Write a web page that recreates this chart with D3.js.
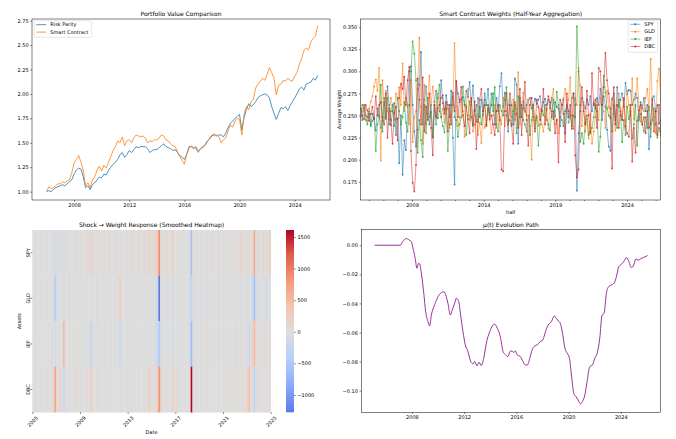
<!DOCTYPE html>
<html>
<head>
<meta charset="utf-8">
<script src="https://cdn.jsdelivr.net/npm/d3@7"></script>
<style>
body { margin: 0; background: #fff; }
svg { font-family: "DejaVu Sans", sans-serif; }
text { fill: #000; }
</style>
</head>
<body>
<div class="chart"></div>
<script>
// ---- data: portfolio value (every 2 months from Jan 2006)
var valueStart = 2006;
var valueStep = 1 / 6;
var riskParity = [
  1.00, 1.01, 1.00, 1.02, 1.04, 1.05,
  1.06, 1.07, 1.06, 1.08, 1.10, 1.12,
  1.18, 1.22, 1.24, 1.23, 1.15, 1.04,
  1.06, 1.02, 1.07, 1.09, 1.12, 1.15,
  1.14, 1.18, 1.17, 1.22, 1.25, 1.28,
  1.30, 1.33, 1.38, 1.40, 1.35, 1.38,
  1.42, 1.40, 1.43, 1.46, 1.45, 1.46,
  1.46, 1.46, 1.44, 1.40, 1.42, 1.43,
  1.43, 1.45, 1.47, 1.49, 1.46, 1.45,
  1.44, 1.42, 1.43, 1.40, 1.37, 1.35,
  1.33, 1.38, 1.46, 1.46, 1.44, 1.46,
  1.41, 1.44, 1.46, 1.48, 1.52, 1.54,
  1.57, 1.59, 1.57, 1.58, 1.58, 1.56,
  1.60, 1.65, 1.70, 1.72, 1.75, 1.77,
  1.79, 1.63, 1.76, 1.84, 1.90, 1.87,
  1.89, 1.92, 1.96, 1.98, 1.99, 2.00,
  1.99, 1.96, 1.87, 1.80, 1.74, 1.80,
  1.86, 1.85, 1.87, 1.83, 1.88, 1.92,
  1.96, 2.00, 2.05, 2.07, 2.04, 2.10,
  2.11, 2.12, 2.16, 2.14, 2.19
];
var smartContract = [
  1.00, 1.05, 1.03, 1.04, 1.06, 1.08,
  1.08, 1.10, 1.09, 1.11, 1.12, 1.19,
  1.29, 1.33, 1.37, 1.30, 1.22, 1.06,
  1.09, 1.04, 1.12, 1.15, 1.22, 1.26,
  1.21, 1.27, 1.24, 1.30, 1.36, 1.42,
  1.46, 1.52, 1.50, 1.56, 1.47, 1.52,
  1.53, 1.50, 1.55, 1.58, 1.57, 1.56,
  1.57, 1.55, 1.50, 1.52, 1.51, 1.53,
  1.53, 1.55, 1.58, 1.57, 1.53, 1.52,
  1.49, 1.47, 1.46, 1.41, 1.36, 1.32,
  1.28, 1.38, 1.44, 1.47, 1.45, 1.44,
  1.40, 1.44, 1.45, 1.47, 1.51, 1.55,
  1.58, 1.57, 1.58, 1.56, 1.50, 1.53,
  1.55, 1.62, 1.68, 1.66, 1.72, 1.75,
  1.74, 1.58, 1.80, 1.87, 1.84, 1.92,
  1.94, 2.06, 2.10, 2.13, 2.16, 2.14,
  2.20, 2.27, 2.22, 2.16, 1.99, 2.09,
  2.10, 2.14, 2.13, 2.16, 2.14, 2.13,
  2.18, 2.22, 2.30, 2.36, 2.44, 2.47,
  2.45, 2.53, 2.57, 2.59, 2.70
];
var valueTicksY = [1.00, 1.25, 1.50, 1.75, 2.00, 2.25, 2.50, 2.75];
var valueTicksX = [2008, 2012, 2016, 2020, 2024];

// ---- data: smart contract weights
var assets = ["SPY", "GLD", "IEF", "DBC"];
var weightStart = 2005.42;
var weightEnd = 2026.35;
var wSPY = [
  .258,.245,.262,.250,.248,.255,.240,.252,.246,.233,
  .258,.250,.236,.244,.270,.248,.283,.262,.239,.255,
  .264,.228,.247,.196,.250,.183,.222,.211,.260,.300,
  .306,.262,.232,.215,.234,.285,.322,.240,.268,.283,
  .252,.240,.262,.225,.266,.278,.247,.255,.290,.264,
  .256,.273,.262,.248,.278,.225,.172,.289,.275,.265,
  .268,.271,.262,.278,.271,.288,.262,.284,.256,.243,
  .270,.248,.268,.250,.275,.262,.280,.253,.262,.275,
  .240,.270,.255,.283,.298,.260,.276,.250,.232,.275,
  .262,.240,.292,.285,.218,.270,.248,.266,.255,.262,
  .268,.270,.258,.262,.269,.263,.268,.272,.256,.265,
  .269,.262,.268,.258,.270,.246,.265,.260,.258,.238,
  .262,.268,.230,.262,.255,.250,.270,.275,.262,.165,
  .230,.255,.270,.262,.258,.268,.262,.272,.255,.264,
  .258,.270,.262,.280,.245,.272,.260,.234,.215,.210,
  .268,.275,.245,.282,.260,.268,.275,.260,.287,.274,
  .279,.278,.262,.268,.275,.270,.245,.265,.258,.270,
  .255,.262,.212,.240,.270,.272,.255,.262,.241,.245
];
var wGLD = [
  .248,.255,.262,.250,.244,.258,.266,.272,.283,.291,
  .278,.304,.199,.290,.262,.278,.255,.246,.270,.262,
  .245,.275,.268,.282,.262,.309,.255,.270,.262,.240,
  .290,.220,.248,.255,.280,.338,.260,.218,.285,.240,
  .270,.295,.262,.283,.265,.250,.275,.262,.248,.258,
  .242,.265,.258,.236,.250,.262,.332,.260,.238,.248,
  .270,.255,.226,.262,.280,.245,.268,.232,.240,.250,
  .228,.242,.219,.252,.236,.240,.262,.245,.230,.250,
  .262,.236,.255,.248,.240,.270,.238,.255,.262,.275,
  .248,.268,.245,.258,.299,.240,.262,.276,.254,.250,
  .268,.238,.200,.262,.244,.250,.238,.258,.240,.232,
  .248,.256,.235,.262,.270,.280,.240,.246,.230,.254,
  .262,.270,.280,.258,.268,.293,.250,.235,.270,.262,
  .304,.284,.238,.265,.232,.246,.224,.252,.218,.232,
  .248,.262,.245,.270,.258,.255,.236,.278,.260,.248,
  .270,.252,.233,.262,.275,.258,.245,.268,.236,.278,
  .262,.250,.292,.246,.270,.292,.260,.243,.262,.255,
  .270,.280,.256,.314,.262,.248,.230,.289,.303,.268
];
var wIEF = [
  .250,.262,.258,.245,.240,.252,.238,.244,.248,.210,
  .240,.248,.285,.232,.265,.246,.270,.240,.255,.262,
  .238,.246,.270,.255,.240,.248,.265,.242,.232,.262,
  .300,.334,.320,.290,.208,.245,.222,.203,.262,.230,
  .270,.248,.254,.226,.262,.240,.270,.285,.248,.238,
  .231,.258,.210,.240,.262,.272,.248,.245,.226,.240,
  .248,.283,.262,.228,.250,.266,.248,.238,.255,.262,
  .245,.260,.240,.255,.268,.240,.262,.250,.275,.255,
  .282,.240,.232,.262,.255,.250,.268,.282,.243,.245,
  .238,.255,.262,.230,.272,.248,.262,.245,.240,.232,
  .250,.228,.245,.262,.235,.248,.216,.240,.255,.250,
  .262,.245,.240,.233,.255,.268,.249,.277,.262,.248,
  .245,.238,.255,.260,.242,.248,.238,.250,.248,.351,
  .300,.220,.230,.218,.242,.250,.228,.232,.236,.248,
  .262,.255,.209,.226,.262,.295,.276,.258,.250,.247,
  .232,.262,.248,.236,.268,.250,.220,.245,.228,.260,
  .246,.255,.224,.240,.262,.216,.248,.252,.240,.232,
  .248,.236,.260,.226,.245,.258,.240,.225,.236,.228
];
var wDBC = [
  .258,.250,.246,.262,.256,.244,.252,.260,.246,.272,
  .250,.262,.265,.248,.240,.275,.225,.258,.245,.218,
  .253,.260,.222,.270,.286,.280,.294,.262,.290,.305,
  .210,.174,.164,.194,.292,.268,.240,.293,.232,.260,
  .245,.275,.236,.205,.262,.248,.258,.262,.270,.273,
  .252,.265,.232,.262,.240,.276,.255,.289,.248,.268,
  .282,.250,.238,.260,.246,.230,.270,.240,.266,.212,
  .243,.268,.280,.255,.262,.238,.258,.246,.250,.240,
  .228,.255,.262,.245,.189,.187,.255,.275,.240,.262,
  .240,.218,.265,.252,.236,.280,.228,.258,.288,.245,
  .216,.262,.270,.248,.232,.268,.260,.245,.255,.280,
  .240,.258,.272,.265,.248,.255,.230,.245,.197,.268,
  .262,.252,.220,.275,.248,.262,.235,.275,.205,.180,
  .189,.262,.282,.255,.240,.278,.250,.230,.298,.262,
  .268,.236,.304,.300,.262,.282,.321,.290,.275,.258,
  .190,.282,.240,.262,.236,.255,.245,.270,.238,.230,
  .226,.262,.198,.236,.208,.244,.256,.262,.240,.248,
  .230,.255,.236,.242,.268,.232,.255,.228,.262,.232
];
var weightTicksY = [0.175, 0.200, 0.225, 0.250, 0.275, 0.300, 0.325, 0.350];
var weightTicksX = [2009, 2014, 2019, 2024];
var weightMinorX = [2006, 2007, 2008, 2010, 2011, 2012, 2013, 2015, 2016, 2017, 2018, 2020, 2021, 2022, 2023, 2025, 2026];

// ---- data: shock -> weight response (140 smoothed columns)
var shockSPY = [
  0,10,-20,0,15,0,-10,20,0,-15,
  0,-30,40,-150,-60,20,-120,30,-80,-40,
  60,0,-30,40,0,80,-20,10,50,0,
  -40,20,90,60,200,30,-20,50,0,70,
  40,-30,60,0,90,20,0,-50,30,60,
  0,-40,20,40,0,60,-20,30,90,0,
  40,-60,20,80,0,110,60,-30,150,40,
  120,60,140,250,900,100,-40,60,120,30,
  0,80,200,40,-20,60,0,30,-40,20,
  0,-30,50,-600,20,0,30,-20,0,40,
  20,0,-40,30,0,60,-20,0,40,-30,
  50,0,30,-50,60,20,0,80,40,-20,
  60,90,150,30,-60,80,40,120,-40,100,
  650,-50,80,60,20,120,40,100,60,150
];
var shockGLD = [
  0,-20,10,0,-30,0,20,0,-10,0,
  -20,0,-60,-450,-80,-40,0,-30,-60,-20,
  0,-40,20,0,-30,0,-50,20,0,-20,
  30,0,-40,0,-30,20,0,-60,0,40,
  0,-30,20,60,0,-20,40,0,20,80,
  40,250,30,0,-40,60,0,-20,30,0,
  -30,20,0,-40,30,0,-20,40,0,20,
  -30,0,-40,-120,-1275,-60,0,-30,20,-40,
  0,-20,-60,0,30,-40,0,-20,40,-30,
  0,-20,-60,-350,-40,0,-30,20,0,-20,
  0,-40,20,0,-30,0,20,-40,0,-20,
  30,0,-20,40,0,-30,0,20,-40,0,
  -20,-40,-100,0,30,-60,-20,0,-80,-150,
  -600,-100,0,-40,20,-30,-60,-150,-40,0
];
var shockIEF = [
  0,-20,0,10,-10,0,20,-10,0,-20,
  0,-40,0,-100,-40,-30,-20,-60,500,-40,
  0,20,-30,0,40,0,-20,30,0,-30,
  20,-40,0,-60,-250,-30,0,-20,40,0,
  -30,0,20,-40,0,30,-20,0,-30,20,
  -60,-200,-40,0,20,-30,0,40,-20,0,
  20,-30,0,-20,40,0,-30,20,0,-20,
  0,-30,-60,-200,-500,-80,-20,0,-40,0,
  -20,0,-40,20,0,-30,0,20,-40,0,
  -20,0,-80,-650,-60,0,-20,30,0,-20,
  0,-20,40,0,-30,0,20,-20,0,30,
  0,-40,20,0,-20,30,0,-30,0,20,
  -30,0,40,-20,0,60,-40,-200,80,150,
  500,120,0,-40,60,30,-20,80,0,40
];
var shockDBC = [
  0,10,0,-10,20,0,-20,10,30,0,
  20,40,100,700,60,30,200,-60,-150,-30,
  20,30,0,40,10,60,0,30,-10,40,
  20,0,30,60,250,40,10,0,50,10,
  30,10,0,40,-20,20,0,30,0,10,
  0,30,0,-20,10,40,0,30,-10,20,
  10,0,30,0,40,10,30,60,150,100,
  30,10,40,200,850,250,30,10,40,0,
  30,60,150,30,100,10,0,30,0,10,
  0,30,40,1610,10,0,30,-20,0,0,
  10,0,30,0,-20,10,0,30,0,0,
  10,30,0,40,0,30,0,10,30,0,
  30,40,10,60,30,80,150,450,40,-40,
  -300,-60,30,10,40,0,30,0,60,10
];
var shockYears = [2005, 2009, 2013, 2017, 2021, 2025];
var colorbarTicks = [-1000, -500, 0, 500, 1000, 1500];

// ---- data: mu(t) path
var muYears = [2005.14, 2007.10, 2007.29, 2007.57, 2007.82, 2007.95, 2008.08, 2008.25, 2008.38, 2008.51,
  2008.59, 2008.72, 2008.92, 2009.05, 2009.23, 2009.36, 2009.49, 2009.74, 2010.00, 2010.25,
  2010.45, 2010.63, 2010.76, 2010.94, 2011.07, 2011.27, 2011.40, 2011.58, 2011.73, 2011.91,
  2012.09, 2012.29, 2012.50, 2012.68, 2012.81, 2012.98, 2013.14, 2013.31, 2013.50, 2013.70,
  2013.96, 2014.16, 2014.34, 2014.54, 2014.77, 2014.98, 2015.18, 2015.36, 2015.52, 2015.67,
  2015.80, 2015.92, 2016.07, 2016.31, 2016.51, 2016.69, 2016.85, 2017.03, 2017.21, 2017.41,
  2017.61, 2017.82, 2018.03, 2018.23, 2018.44, 2018.69, 2018.90, 2019.05, 2019.21, 2019.36,
  2019.52, 2019.72, 2019.90, 2020.07, 2020.22, 2020.40, 2020.56, 2020.73, 2020.91, 2021.06,
  2021.25, 2021.42, 2021.63, 2021.83, 2022.01, 2022.19, 2022.39, 2022.57, 2022.72, 2022.90,
  2023.08, 2023.28, 2023.49, 2023.67, 2023.85, 2024.05, 2024.23, 2024.43, 2024.62, 2024.82,
  2025.00, 2025.15, 2025.33, 2025.51, 2025.72, 2026.05];
var muValues = [0, 0, 0.0025, 0.0046, 0.0034, 0.0025, -0.002, -0.009, -0.0158, -0.0124,
  -0.0128, -0.0193, -0.034, -0.0456, -0.0525, -0.0555, -0.048, -0.041, -0.0353, -0.0326,
  -0.032, -0.0353, -0.040, -0.048, -0.045, -0.040, -0.0365, -0.0387, -0.048, -0.0594,
  -0.0685, -0.073, -0.080, -0.0816, -0.080, -0.083, -0.0805, -0.0828, -0.0777, -0.0674,
  -0.0594, -0.0555, -0.0543, -0.0571, -0.0628, -0.073, -0.0754, -0.0766, -0.073, -0.0727,
  -0.0738, -0.0727, -0.0754, -0.0766, -0.080, -0.0823, -0.0823, -0.0777, -0.072, -0.0692,
  -0.0685, -0.0663, -0.0651, -0.0594, -0.0548, -0.0525, -0.0486, -0.0502, -0.052, -0.0536,
  -0.0594, -0.0708, -0.0743, -0.0777, -0.0892, -0.1018, -0.104, -0.1064, -0.1091, -0.1075,
  -0.103, -0.0938, -0.0834, -0.0823, -0.0777, -0.0743, -0.064, -0.0479, -0.0468, -0.033,
  -0.0284, -0.0273, -0.0261, -0.0215, -0.0147, -0.0131, -0.0112, -0.0085, -0.0112, -0.0154,
  -0.0135, -0.0094, -0.0103, -0.0094, -0.0085, -0.0071];
var muTicksY = [0, -0.02, -0.04, -0.06, -0.08, -0.10];
var muTicksX = [2008, 2012, 2016, 2020, 2024];

// ---- chart
var svg = d3.select(".chart").append("svg")
  .attr("width", 676)
  .attr("height", 439);

var tab = ["#1f77b4", "#ff7f0e", "#2ca02c", "#d62728"];

function styleAxis(sel) {
  sel.attr("font-size", 5).attr("font-family", "DejaVu Sans");
  sel.select(".domain").remove();
  sel.selectAll(".tick line").attr("stroke-width", 0.5);
  sel.selectAll(".tick text").attr("fill", "#000");
}

function frame(x0, y0, x1, y1) {
  svg.append("rect")
    .attr("x", x0).attr("y", y0)
    .attr("width", x1 - x0).attr("height", y1 - y0)
    .attr("fill", "none")
    .attr("stroke", "#000")
    .attr("stroke-width", 0.5);
}

function title(text, x, y) {
  svg.append("text")
    .attr("x", x).attr("y", y)
    .attr("text-anchor", "middle")
    .attr("font-size", 6)
    .attr("fill", "#000")
    .text(text);
}

function legend(x0, y0, w, h, items, withMarker) {
  var g = svg.append("g");
  g.append("rect")
    .attr("x", x0).attr("y", y0).attr("width", w).attr("height", h)
    .attr("rx", 1)
    .attr("fill", "#fff").attr("fill-opacity", 0.8)
    .attr("stroke", "#ccc").attr("stroke-width", 0.5);
  items.forEach((it, i) => {
    var cy = y0 + 4 + i * 7.4;
    g.append("line")
      .attr("x1", x0 + 2).attr("x2", x0 + 12)
      .attr("y1", cy).attr("y2", cy)
      .attr("stroke", it.color).attr("stroke-width", 0.8)
      .attr("stroke-opacity", withMarker ? 0.7 : 1);
    if (withMarker) {
      g.append("circle").attr("cx", x0 + 7).attr("cy", cy).attr("r", 1)
        .attr("fill", it.color);
    }
    g.append("text")
      .attr("x", x0 + 16).attr("y", cy)
      .attr("dy", "0.35em")
      .attr("font-size", 5)
      .attr("fill", "#000")
      .text(it.label);
  });
}

// panel 1: portfolio value
var x1 = d3.scaleLinear().domain([2004.95, 2026.56]).range([32, 330]);
var y1 = d3.scaleLinear().domain([0.914, 2.767]).range([200, 19]);

svg.append("g")
  .attr("transform", "translate(0,200)")
  .call(d3.axisBottom(x1).tickValues(valueTicksX).tickFormat(d3.format("d")).tickSize(1.7).tickPadding(1.7))
  .call(styleAxis);
svg.append("g")
  .attr("transform", "translate(32,0)")
  .call(d3.axisLeft(y1).tickValues(valueTicksY).tickFormat(d3.format(".2f")).tickSize(1.7).tickPadding(1.7))
  .call(styleAxis);

var valueLine = d3.line()
  .x((d, i) => x1(valueStart + i * valueStep))
  .y(d => y1(d));

svg.append("path").datum(riskParity)
  .attr("d", valueLine)
  .attr("fill", "none").attr("stroke", tab[0]).attr("stroke-width", 0.8);
svg.append("path").datum(smartContract)
  .attr("d", valueLine)
  .attr("fill", "none").attr("stroke", tab[1]).attr("stroke-width", 0.8);

frame(32, 19, 330, 200);
title("Portfolio Value Comparison", 181, 15.5);
legend(34.3, 20.7, 57.4, 16.6, [
  { label: "Risk Parity", color: tab[0] },
  { label: "Smart Contract", color: tab[1] }
], false);

// panel 2: weights
var x2 = d3.scaleLinear().domain([weightStart, weightEnd]).range([360.7, 660.7]);
var y2 = d3.scaleLinear().domain([0.1544, 0.3593]).range([200, 19]);
var nW = wSPY.length;
var half = d3.range(nW).map(i => weightStart + i * (weightEnd - weightStart) / (nW - 1));

svg.append("g")
  .attr("transform", "translate(0,200)")
  .call(d3.axisBottom(x2).tickValues(weightTicksX).tickFormat(d3.format("d")).tickSize(1.7).tickPadding(1.7))
  .call(styleAxis);
svg.append("g")
  .attr("transform", "translate(0,200)")
  .call(d3.axisBottom(x2).tickValues(weightMinorX).tickFormat("").tickSize(1))
  .call(styleAxis);
svg.append("g")
  .attr("transform", "translate(360.7,0)")
  .call(d3.axisLeft(y2).tickValues(weightTicksY).tickFormat(d3.format(".3f")).tickSize(1.7).tickPadding(1.7))
  .call(styleAxis);

var weightSeries = [wSPY, wGLD, wIEF, wDBC];
var plot2 = svg.append("g");
plot2.append("clipPath").attr("id", "clip2")
  .append("rect").attr("x", 360.7).attr("y", 19).attr("width", 300).attr("height", 181);
var wLine = d3.line().x((d, i) => x2(half[i])).y(d => y2(d));

weightSeries.forEach((s, k) => {
  var g = plot2.append("g").attr("clip-path", "url(#clip2)");
  g.append("path").datum(s)
    .attr("d", wLine)
    .attr("fill", "none")
    .attr("stroke", tab[k]).attr("stroke-width", 0.75).attr("stroke-opacity", 0.7);
  g.selectAll("circle").data(s).enter().append("circle")
    .attr("cx", (d, i) => x2(half[i]))
    .attr("cy", d => y2(d))
    .attr("r", 0.95)
    .attr("fill", tab[k]).attr("fill-opacity", 0.8);
});

frame(360.7, 19, 660.7, 200);
title("Smart Contract Weights (Half-Year Aggregation)", 510.7, 15.5);
svg.append("text")
  .attr("transform", "translate(339,109.5) rotate(-90)")
  .attr("text-anchor", "middle").attr("dy", "0.35em")
  .attr("font-size", 5)
  .attr("fill", "#000")
  .text("Average Weight");
svg.append("text")
  .attr("x", 510.7).attr("y", 214)
  .attr("text-anchor", "middle")
  .attr("font-size", 5)
  .attr("fill", "#000")
  .text("half");
legend(628.3, 20.3, 29.4, 32, assets.map((a, k) => ({ label: a, color: tab[k] })), true);

// panel 3: heatmap
var shockRows = [shockSPY, shockGLD, shockIEF, shockDBC];
var nCols = shockSPY.length;
var xh = d3.scaleBand().domain(d3.range(nCols)).range([32.3, 270.7]);
var yh = d3.scaleBand().domain(assets).range([230, 412.3]);
var xYear = d3.scaleLinear().domain([2005, 2025]).range([32.3, 270.7]);

var allShock = d3.merge(shockRows);
var sMin = d3.min(allShock), sMax = d3.max(allShock);
var sRange = Math.max(Math.abs(sMin), Math.abs(sMax));

// coolwarm stops (colormap, not data)
var coolwarm = d3.scaleLinear()
  .domain([0, 0.125, 0.25, 0.375, 0.5, 0.625, 0.75, 0.875, 1])
  .range(["#3b4cc0", "#6282ea", "#8db0fe", "#b8d0f9", "#dddddd", "#f5c4ac", "#f49a7b", "#de604d", "#b40426"])
  .interpolate(d3.interpolateRgb);
var shockColor = v => coolwarm((v + sRange) / (2 * sRange));

var cells = [];
shockRows.forEach((row, r) => row.forEach((v, c) => cells.push({ asset: assets[r], col: c, v: v })));

svg.append("g").selectAll("rect")
  .data(cells)
  .enter().append("rect")
  .attr("x", d => xh(d.col))
  .attr("y", d => yh(d.asset))
  .attr("width", xh.bandwidth() + 0.35)
  .attr("height", yh.bandwidth() + 0.2)
  .attr("fill", d => shockColor(d.v));

var hx = svg.append("g")
  .attr("transform", "translate(0,412.3)")
  .call(d3.axisBottom(xYear).tickValues(shockYears).tickFormat(d3.format("d")).tickSize(1.7))
  .call(styleAxis);
hx.selectAll(".tick text")
  .attr("y", 9.2).attr("dy", "0.35em")
  .attr("text-anchor", "middle")
  .attr("transform", "rotate(-45,0,9.2)");

var hy = svg.append("g")
  .attr("transform", "translate(32.3,0)")
  .call(d3.axisLeft(yh).tickSize(1.7))
  .call(styleAxis);
hy.selectAll(".tick text")
  .attr("x", 0).attr("y", -2.6).attr("dy", 0)
  .attr("text-anchor", "middle")
  .attr("transform", "rotate(-90)");

title("Shock \u2192 Weight Response (Smoothed Heatmap)", 151.5, 226.5);
svg.append("text")
  .attr("x", 151.5).attr("y", 434)
  .attr("text-anchor", "middle")
  .attr("font-size", 5)
  .attr("fill", "#000")
  .text("Date");
svg.append("text")
  .attr("transform", "translate(19,321.2) rotate(-90)")
  .attr("text-anchor", "middle").attr("dy", "0.35em")
  .attr("font-size", 5)
  .attr("fill", "#000")
  .text("Assets");

// colorbar
var cb = d3.scaleLinear().domain([sMin, sMax]).range([412.3, 230]);
var grad = svg.append("defs").append("linearGradient")
  .attr("id", "cbgrad")
  .attr("x1", 0).attr("y1", 1).attr("x2", 0).attr("y2", 0);
d3.range(0, 1.0001, 0.02).forEach(t => {
  grad.append("stop")
    .attr("offset", t)
    .attr("stop-color", shockColor(sMin + t * (sMax - sMin)));
});
svg.append("rect")
  .attr("x", 286).attr("y", 230)
  .attr("width", 8).attr("height", 182.3)
  .attr("fill", "url(#cbgrad)");
svg.append("g")
  .attr("transform", "translate(294,0)")
  .call(d3.axisRight(cb).tickValues(colorbarTicks).tickFormat(d3.format("d")).tickSize(1.7).tickPadding(1.7))
  .call(styleAxis);

// panel 4: mu(t)
var x4 = d3.scaleLinear().domain([2004.12, 2027.06]).range([361.3, 660.7]);
var y4 = d3.scaleLinear().domain([-0.1149, 0.0107]).range([412.3, 229.7]);

svg.append("g")
  .attr("transform", "translate(0,412.3)")
  .call(d3.axisBottom(x4).tickValues(muTicksX).tickFormat(d3.format("d")).tickSize(1.7).tickPadding(1.7))
  .call(styleAxis);
svg.append("g")
  .attr("transform", "translate(361.3,0)")
  .call(d3.axisLeft(y4).tickValues(muTicksY).tickFormat(d3.format(".2f")).tickSize(1.7).tickPadding(1.7))
  .call(styleAxis);

svg.append("path")
  .datum(muValues)
  .attr("d", d3.line().curve(d3.curveMonotoneX).x((d, i) => x4(muYears[i])).y(d => y4(d)))
  .attr("fill", "none")
  .attr("stroke", "purple")
  .attr("stroke-width", 0.8);

frame(361.3, 229.7, 660.7, 412.3);
title("\u03bc(t) Evolution Path", 511, 226.5);
</script>
</body>
</html>
